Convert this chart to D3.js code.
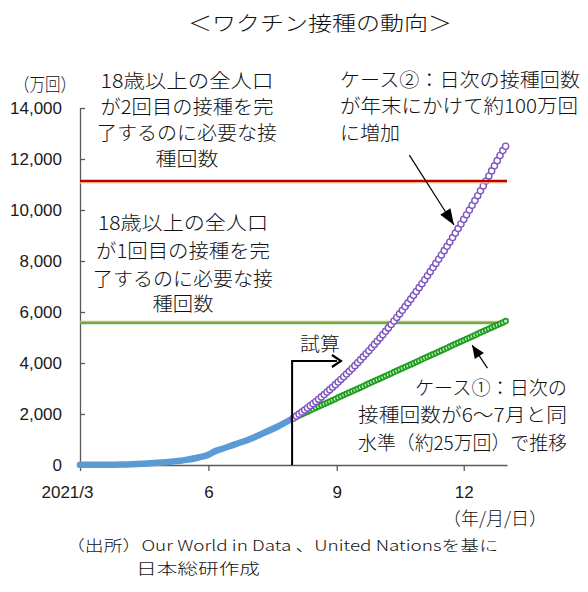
<!DOCTYPE html>
<html><head><meta charset="utf-8">
<script src="https://cdn.jsdelivr.net/npm/d3@7"></script>
<style>body{margin:0;background:#fff}</style>
</head><body><svg id="c" width="588" height="592"></svg>
<script>
// ---- data ----
const yTicks = [0, 2000, 4000, 6000, 8000, 10000, 12000, 14000];
const xTickDates = ["2021-03-01", "2021-06-01", "2021-09-01", "2021-12-01"];
const xTickLabels = ["2021/3", "6", "9", "12"];
const actualDates = ["2021-03-01","2021-03-15","2021-04-01","2021-04-15","2021-05-01","2021-05-15","2021-05-25","2021-06-01","2021-06-05","2021-06-10","2021-06-20","2021-06-30","2021-07-10","2021-07-20","2021-08-01"];
const actualValues = [5, 8, 18, 50, 110, 190, 295, 400, 520, 620, 810, 1000, 1240, 1490, 1843];
const projStart = "2021-08-01";
const projStepDays = 2;
const case1Values = [1843,1893,1943,1993,2043,2093,2143,2193,2243,2293,
 2343,2393,2443,2493,2543,2593,2643,2693,2743,2793,
 2843,2893,2943,2993,3043,3093,3143,3193,3243,3293,
 3343,3393,3443,3493,3543,3593,3643,3693,3743,3793,
 3843,3893,3943,3993,4043,4093,4143,4193,4243,4293,
 4343,4393,4443,4493,4543,4593,4643,4693,4743,4793,
 4843,4893,4943,4993,5043,5093,5143,5193,5243,5293,
 5343,5393,5443,5493,5543,5593,5643];
const case2Values = [1843,1918,1995,2073,2153,2235,2319,2404,2491,2580,
 2671,2763,2858,2954,3051,3151,3252,3355,3460,3567,
 3675,3785,3897,4011,4126,4243,4362,4483,4605,4729,
 4855,4983,5112,5243,5376,5511,5647,5786,5926,6067,
 6211,6356,6503,6652,6803,6955,7109,7265,7423,7582,
 7743,7906,8071,8237,8405,8575,8747,8920,9095,9272,
 9451,9631,9814,9998,10183,10371,10560,10751,10944,11139,
 11335,11533,11733,11935,12138,12330,12500];
const secondDoseLevel = 11140;
const firstDoseLevel = 5570;

// ---- setup ----
const parse = d3.timeParse("%Y-%m-%d");
const svg = d3.select("#c");
const JP = "'Noto Sans CJK JP', sans-serif";
const NUM = "'Liberation Sans', Arial, sans-serif";
const x = d3.scaleTime().domain([parse("2021-03-01"), parse("2022-01-01")]).range([80, 507]);
const y = d3.scaleLinear().domain([0, 14000]).range([465, 108]);

const actual = actualDates.map((d, i) => ({ d: parse(d), v: actualValues[i] }));
const p0 = parse(projStart);
const case1 = case1Values.map((v, i) => ({ d: d3.timeDay.offset(p0, i * projStepDays), v }));
const case2 = case2Values.map((v, i) => ({ d: d3.timeDay.offset(p0, i * projStepDays), v }));

function txt(px, py, s, o = {}) {
  const t = svg.append("text").attr("x", px).attr("y", py).text(s)
    .attr("font-family", o.family || JP).attr("font-size", o.size || 19)
    .attr("font-weight", o.weight || 300)
    .attr("fill", "#111").attr("dominant-baseline", "central")
    .attr("text-anchor", o.anchor || "start");
  if (o.len) t.attr("textLength", o.len).attr("lengthAdjust", "spacingAndGlyphs");
  return t;
}

// ---- axes ----
const ya = svg.append("g").attr("transform", "translate(80,0)")
  .call(d3.axisLeft(y).tickValues(yTicks).tickSize(-5).tickSizeOuter(0).tickPadding(18).tickFormat(d3.format(",")));
ya.selectAll("text").attr("font-family", NUM).attr("font-size", 17).attr("fill", "#1a1a1a");
ya.selectAll("line,path").attr("stroke", "#595959").attr("stroke-width", 1.3);

const xa = svg.append("g").attr("transform", "translate(0,465)")
  .call(d3.axisBottom(x).tickValues(xTickDates.map(parse)).tickSize(6).tickSizeOuter(0).tickPadding(15)
    .tickFormat((d, i) => xTickLabels[i]));
xa.selectAll("text").attr("font-family", NUM).attr("font-size", 17).attr("fill", "#1a1a1a");
xa.selectAll("line,path").attr("stroke", "#595959").attr("stroke-width", 1.3);
xa.selectAll("text").filter((d, i) => i === 0).attr("dx", -13);

// ---- level line (1st dose) ----
const x0 = x.range()[0], x1 = x.range()[1];
svg.append("line").attr("x1", x0).attr("x2", x1).attr("y1", y(firstDoseLevel) - 1.5).attr("y2", y(firstDoseLevel) - 1.5)
  .attr("stroke", "#f4b183").attr("stroke-width", 1.2);
svg.append("line").attr("x1", x0).attr("x2", x1).attr("y1", y(firstDoseLevel)).attr("y2", y(firstDoseLevel))
  .attr("stroke", "#70ad47").attr("stroke-width", 2.5);

// ---- series ----
const line = d3.line().x(d => x(d.d)).y(d => y(d.v));
svg.append("path").datum(actual).attr("d", line.curve(d3.curveMonotoneX)).attr("fill", "none")
  .attr("stroke", "#5b9bd5").attr("stroke-width", 6.5).attr("stroke-linejoin", "round").attr("stroke-linecap", "round");

const line2 = d3.line().x(d => x(d.d)).y(d => y(d.v));
svg.append("path").datum(case1).attr("d", line2).attr("fill", "none").attr("stroke", "#1e9e1e").attr("stroke-width", 2.5);
svg.append("g").selectAll("circle").data(case1).join("circle")
  .attr("cx", d => x(d.d)).attr("cy", d => y(d.v)).attr("r", 2.4)
  .attr("fill", "#d8efd8").attr("stroke", "#1e9e1e").attr("stroke-width", 1.7);

svg.append("path").datum(case2).attr("d", line2).attr("fill", "none").attr("stroke", "#7e55c0").attr("stroke-width", 2);
svg.append("g").selectAll("circle").data(case2).join("circle")
  .attr("cx", d => x(d.d)).attr("cy", d => y(d.v)).attr("r", 3.1)
  .attr("fill", "#fff").attr("stroke", "#7e55c0").attr("stroke-width", 1.4);

// ---- level line (2nd dose) ----
svg.append("line").attr("x1", x0).attr("x2", x1).attr("y1", y(secondDoseLevel) + 2).attr("y2", y(secondDoseLevel) + 2)
  .attr("stroke", "#ffd98f").attr("stroke-width", 1.2);
svg.append("line").attr("x1", x0).attr("x2", x1).attr("y1", y(secondDoseLevel)).attr("y2", y(secondDoseLevel))
  .attr("stroke", "#c00000").attr("stroke-width", 2.6);

// ---- arrows ----
function arrow(xa_, ya_, xb, yb, len, wid) {
  svg.append("line").attr("x1", xa_).attr("y1", ya_).attr("x2", xb).attr("y2", yb)
    .attr("stroke", "#000").attr("stroke-width", 1.2);
  const ang = Math.atan2(yb - ya_, xb - xa_);
  const bx = xb - len * Math.cos(ang), by = yb - len * Math.sin(ang);
  const nx = -Math.sin(ang) * wid / 2, ny = Math.cos(ang) * wid / 2;
  svg.append("path").attr("d", `M${xb},${yb}L${bx + nx},${by + ny}L${bx - nx},${by - ny}Z`).attr("fill", "#000");
}
// case 2 arrow
arrow(x(parse("2021-10-23")), y(12150), x(parse("2021-11-24")), y(9410), 16, 12);
// case 1 arrow
arrow(x(parse("2021-12-18")), y(3800), x(parse("2021-12-07")), y(4700), 13, 11);
// 試算 bracket
const bx0 = x(parse("2021-07-31")), by0 = y(4077), bx1 = x(parse("2021-09-04"));
svg.append("path").attr("d", `M${bx0},${y(0)}V${by0}H${bx1 - 4}`).attr("fill", "none").attr("stroke", "#000").attr("stroke-width", 2);
svg.append("path").attr("d", `M${bx1 - 9},${by0 - 6}L${bx1},${by0}L${bx1 - 9},${by0 + 6}`).attr("fill", "none").attr("stroke", "#000").attr("stroke-width", 2.2);

// ---- texts ----
txt(320, 22, "＜ワクチン接種の動向＞", { size: 20, anchor: "middle", len: 264 });
txt(45, 83, "（万回）", { size: 18, anchor: "middle", len: 62 });

const b1 = ["18歳以上の全人口", "が2回目の接種を完", "了するのに必要な接", "種回数"];
const b1w = [173, 173, 180, 63];
const b1y = [79, 105, 131, 157];
b1.forEach((s, i) => txt(187, b1y[i], s, { anchor: "middle", len: b1w[i] }));

const b2 = ["18歳以上の全人口", "が1回目の接種を完", "了するのに必要な接", "種回数"];
const b2w = [170, 174, 180, 61];
const b2y = [221, 249, 277, 302];
b2.forEach((s, i) => txt(183, b2y[i], s, { anchor: "middle", len: b2w[i] }));

const c2 = ["ケース②：日次の接種回数", "が年末にかけて約100万回", "に増加"];
const c2w = [240, 238, 60];
const c2y = [78, 104, 131];
c2.forEach((s, i) => txt(340, c2y[i], s, { len: c2w[i] }));

const c1 = ["ケース①：日次の", "接種回数が6～7月と同", "水準（約25万回）で推移"];
const c1w = [152, 209, 209];
const c1y = [386, 413, 441];
c1.forEach((s, i) => txt(567, c1y[i], s, { anchor: "end", len: c1w[i] }));

txt(320, 342, "試算", { anchor: "middle", len: 40 });
txt(495, 517, "（年/月/日）", { size: 18, anchor: "middle", len: 104 });

txt(66, 544, "（出所）Our World in Data 、United Nationsを基に", { size: 15, len: 432 });
txt(136, 567, "日本総研作成", { size: 15, len: 124 });
</script>
</body></html>
